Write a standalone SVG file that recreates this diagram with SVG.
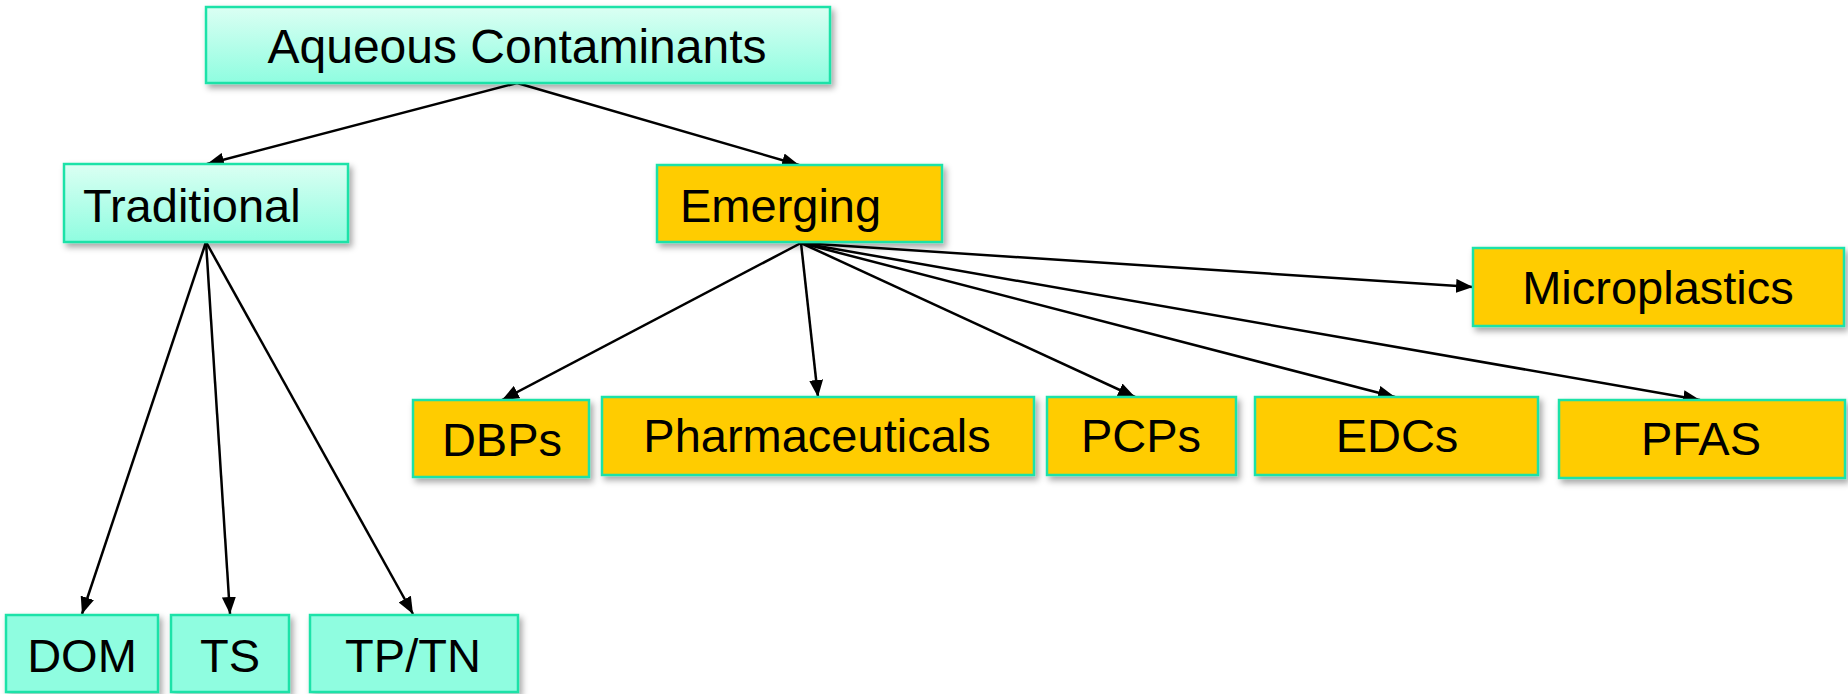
<svg xmlns="http://www.w3.org/2000/svg" width="1848" height="694" viewBox="0 0 1848 694">
  <defs>
    <linearGradient id="mintGrad" x1="0" y1="0" x2="0" y2="1">
      <stop offset="0" stop-color="#dbfff3"/>
      <stop offset="1" stop-color="#8ffde0"/>
    </linearGradient>
    <filter id="shadow" x="-10%" y="-20%" width="130%" height="160%">
      <feDropShadow dx="3" dy="4" stdDeviation="3" flood-color="#000" flood-opacity="0.35"/>
    </filter>
    <marker id="arrow" markerUnits="userSpaceOnUse" markerWidth="18" markerHeight="14" refX="17" refY="7" orient="auto">
      <path d="M0,0 L17,7 L0,14 z" fill="#000"/>
    </marker>
  </defs>
  <style>
    .box { stroke: #1fe2a8; stroke-width: 2.5; filter: url(#shadow); }
    .grad { fill: url(#mintGrad); }
    .mint { fill: #8ffde0; }
    .gold { fill: #ffcc00; }
    .lbl { font-family: "Liberation Sans", Arial, sans-serif; font-size: 47px; fill: #000; }
    .c { text-anchor: middle; }
    .edge { stroke: #000; stroke-width: 2.5; fill: none; marker-end: url(#arrow); }
  </style>
  <rect width="1848" height="694" fill="#fff"/>

  <g id="connectors">
    <line class="edge" x1="517" y1="83" x2="207" y2="164"/>
    <line class="edge" x1="517" y1="83" x2="799" y2="165"/>
    <line class="edge" x1="206" y1="242" x2="82" y2="614"/>
    <line class="edge" x1="206" y1="242" x2="230" y2="614"/>
    <line class="edge" x1="206" y1="242" x2="413" y2="614"/>
    <line class="edge" x1="801" y1="243" x2="502" y2="400"/>
    <line class="edge" x1="801" y1="243" x2="818" y2="397"/>
    <line class="edge" x1="801" y1="243" x2="1135" y2="397"/>
    <line class="edge" x1="801" y1="243" x2="1395" y2="397"/>
    <line class="edge" x1="801" y1="243" x2="1700" y2="400"/>
    <line class="edge" x1="801" y1="243" x2="1473" y2="287"/>
  </g>

  <g id="aqueous">
    <rect class="box grad" x="206" y="7" width="624" height="76"/>
    <text class="lbl c" x="517" y="63" style="font-size:48px">Aqueous Contaminants</text>
  </g>
  <g id="traditional">
    <rect class="box grad" x="64" y="164" width="284" height="78"/>
    <text class="lbl" x="83" y="222">Traditional</text>
  </g>
  <g id="emerging">
    <rect class="box gold" x="657" y="165" width="285" height="77"/>
    <text class="lbl" x="680" y="222">Emerging</text>
  </g>
  <g id="microplastics">
    <rect class="box gold" x="1473" y="248" width="371" height="78"/>
    <text class="lbl c" x="1658" y="304">Microplastics</text>
  </g>
  <g id="dbps">
    <rect class="box gold" x="413" y="400" width="176" height="77"/>
    <text class="lbl c" x="502" y="456">DBPs</text>
  </g>
  <g id="pharmaceuticals">
    <rect class="box gold" x="602" y="397" width="432" height="78"/>
    <text class="lbl c" x="817" y="452">Pharmaceuticals</text>
  </g>
  <g id="pcps">
    <rect class="box gold" x="1047" y="397" width="189" height="78"/>
    <text class="lbl c" x="1141" y="452">PCPs</text>
  </g>
  <g id="edcs">
    <rect class="box gold" x="1255" y="397" width="283" height="78"/>
    <text class="lbl c" x="1397" y="452">EDCs</text>
  </g>
  <g id="pfas">
    <rect class="box gold" x="1559" y="400" width="286" height="78"/>
    <text class="lbl c" x="1701" y="455">PFAS</text>
  </g>
  <g id="dom">
    <rect class="box mint" x="6" y="615" width="152" height="77"/>
    <text class="lbl c" x="82" y="672">DOM</text>
  </g>
  <g id="ts">
    <rect class="box mint" x="171" y="615" width="118" height="77"/>
    <text class="lbl c" x="230" y="672">TS</text>
  </g>
  <g id="tptn">
    <rect class="box mint" x="310" y="615" width="208" height="77"/>
    <text class="lbl c" x="413" y="672">TP/TN</text>
  </g>
</svg>
